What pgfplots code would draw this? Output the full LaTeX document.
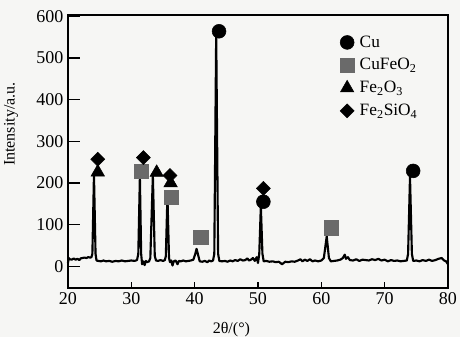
\documentclass[border=0pt]{standalone}
\usepackage{fontspec}
\setmainfont{Liberation Serif}
\usepackage{pgfplots}
\pgfplotsset{compat=1.18}
\definecolor{bgc}{HTML}{F6F6F4}
\definecolor{sqc}{HTML}{6A6A6A}
\begin{document}
\begin{tikzpicture}
\path[use as bounding box, fill=bgc] (-51pt,-36.75pt) rectangle (294pt,216pt);
\begin{axis}[
  scale only axis,
  width=285pt, height=204.75pt,
  xmin=20, xmax=80, ymin=-52, ymax=603,
  xtick={20,30,...,80}, ytick={0,100,...,600},
  tick pos=left, tick align=inside,
  major tick length=9pt,
  xtick style={/pgfplots/major tick length=4.5pt},
  axis line style={line width=1.1pt},
  tick style={line width=1pt, black},
  /pgf/number format/assume math mode=true,
  ticklabel style={font=\fontsize{13.5}{15}\selectfont},
  xlabel={2θ/(°)},
  ylabel={Intensity/a.u.},
  label style={font=\fontsize{12}{14}\selectfont},
  xlabel style={at={(rel axis cs:0.43,0)}, anchor=north, yshift=-22pt},
  ylabel style={at={(rel axis cs:0,0.6)}, anchor=south, yshift=34pt},
  legend style={draw=none, fill=none, at={(0.715,0.935)}, anchor=north west,
    font=\fontsize{13}{15}\selectfont, row sep=3pt, inner sep=0pt,
    nodes={inner xsep=4pt}},
  legend cell align=left,
  clip=false,
]
\addplot[black, line width=1.6pt, mark=none, forget plot, line join=round] coordinates {
(20.0,8) (20.1,20) (20.3,17) (20.6,16) (20.9,19) (21.2,16) (21.5,18) (21.8,15)
(22.0,19) (22.3,20) (22.6,21) (22.9,20) (23.2,22) (23.5,21) (23.7,22) (23.85,30)
(24.1,220) (24.35,30) (24.5,14) (24.8,13) (25.2,12) (25.6,14) (26.0,12) (26.5,13)
(27.0,11) (27.5,13) (28.0,12) (28.5,14) (29.0,12) (29.5,13) (30.0,14) (30.5,13)
(30.9,15) (31.1,30) (31.35,215) (31.55,30) (31.7,5) (31.9,12) (32.1,3) (32.3,13)
(32.5,10) (32.8,12) (33.0,20) (33.4,218) (33.7,25) (33.9,14) (34.2,13) (34.6,15)
(35.0,13) (35.3,15) (35.45,25) (35.7,170) (35.95,20) (36.1,10) (36.3,14) (36.5,2)
(36.7,12) (37.0,14) (37.3,5) (37.5,13) (37.8,12) (38.2,14) (38.6,12) (39.0,13)
(39.4,14) (39.8,16) (40.1,30) (40.3,42) (40.5,30) (40.8,12) (41.2,11) (41.6,13)
(42.0,10) (42.3,14) (42.6,12) (42.9,14) (43.1,30) (43.4,560) (43.7,30) (43.9,13)
(44.3,12) (44.8,13) (45.2,11) (45.6,14) (46.0,12) (46.4,15) (46.8,13) (47.2,17)
(47.6,14) (48.0,15) (48.3,19) (48.6,14) (48.9,16) (49.2,20) (49.5,13) (49.8,22)
(50.0,8) (50.2,30) (50.45,145) (50.7,30) (50.9,12) (51.3,13) (51.8,11) (52.3,12)
(52.8,10) (53.3,11) (53.8,5) (54.3,11) (54.8,10) (55.3,12) (55.8,11) (56.3,14)
(56.7,17) (57.0,12) (57.4,16) (57.8,13) (58.2,17) (58.6,12) (59.0,14) (59.5,12)
(60.0,14) (60.4,20) (60.85,72) (61.2,20) (61.5,12) (62.0,13) (62.5,14) (63.0,16)
(63.4,20) (63.7,28) (63.9,18) (64.2,22) (64.5,15) (65.0,14) (65.5,17) (66.0,13)
(66.5,16) (67.0,15) (67.5,14) (68.0,17) (68.5,15) (69.0,18) (69.5,14) (70.0,16)
(70.5,12) (71.0,15) (71.5,13) (72.0,14) (72.5,12) (73.0,13) (73.5,14) (73.7,30)
(74.0,215) (74.3,30) (74.5,13) (75.0,14) (75.5,12) (76.0,15) (76.5,13) (77.0,16)
(77.5,13) (78.0,15) (78.5,18) (79.0,20) (79.4,14) (79.7,12) (80.0,5)
};
\addplot[only marks, mark=*, mark size=5.2pt, black] coordinates {
(43.85,564) (50.85,155) (74.5,229)
};
\addlegendentry{Cu}
\addplot[only marks, mark=square*, mark size=5.4pt, sqc, mark options={draw=sqc, fill=sqc}] coordinates {
(31.6,228) (36.3,165) (40.95,70) (61.6,93)
};
\addlegendentry{CuFeO\textsubscript{2}}
\addplot[only marks, mark=triangle*, mark size=5.8pt, black] coordinates {
(24.7,226) (34.0,225) (36.2,200)
};
\addlegendentry{Fe\textsubscript{2}O\textsubscript{3}}
\addplot[only marks, mark=square*, mark size=3.7pt, black, mark options={rotate=45}] coordinates {
(24.7,257) (31.9,261) (36.1,218) (50.85,187)
};
\addlegendentry{Fe\textsubscript{2}SiO\textsubscript{4}}
\end{axis}
\end{tikzpicture}
\end{document}
